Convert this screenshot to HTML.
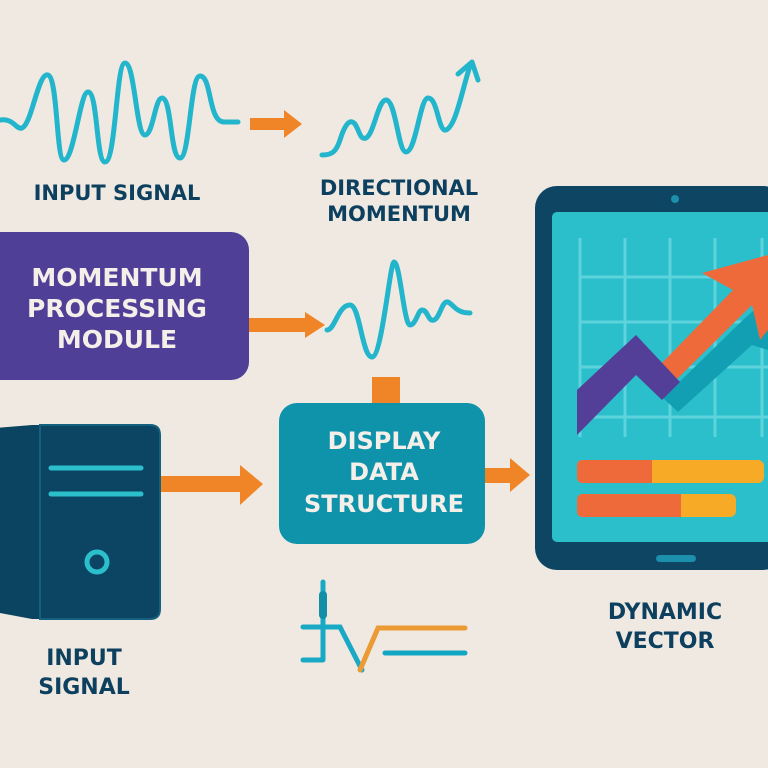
<!DOCTYPE html>
<html><head><meta charset="utf-8"><style>
html,body{margin:0;padding:0;background:#efe9e2;}
svg{display:block;}
text{font-family:"DejaVu Sans","Liberation Sans",sans-serif;font-weight:bold;}
</style></head><body>
<svg width="768" height="768" viewBox="0 0 768 768" xmlns="http://www.w3.org/2000/svg">
<rect width="768" height="768" fill="#efe9e2"/>
<g fill="none" stroke="#22b5cc" stroke-width="5" stroke-linecap="round" stroke-linejoin="round">
<path d="M0,120 C14,118 16,130 22,128 C32,124 38,72 48,75 C58,78 56,160 64,160 C74,160 80,92 88,92 C98,92 96,162 105,162 C116,162 116,63 125,63 C135,63 136,135 145,135 C153,135 155,98 162,98 C172,98 170,158 180,158 C190,158 190,76 200,76 C212,76 208,122 224,122 L238,122"/>
<path d="M322,155 C332,155 336,152 340,140 C345,124 350,118 355,124 C360,132 360,140 366,138 C374,134 378,100 386,100 C396,100 398,152 406,152 C416,152 420,98 428,98 C438,98 438,132 446,130 C456,126 462,90 470,66"/>
<path d="M458,74 L472,62 L478,80"/>
<path d="M327,330 C335,330 338,305 350,305 C360,305 362,357 372,357 C382,357 390,262 394,262 C400,262 404,325 410,325 C416,325 418,310 422,310 C428,310 428,322 434,320 C440,318 442,300 448,302 C454,305 456,313 470,313"/>
</g>
<g fill="#ef8527">
<path d="M250,118 L284,118 L284,110 L302,124 L284,138 L284,130 L250,130Z"/>
<path d="M249,318 L305,318 L305,312 L325,325 L305,338 L305,332 L249,332Z"/>
<path d="M160,476 L240,476 L240,465 L263,484 L240,505 L240,492 L160,492Z"/>
<path d="M485,468 L510,468 L510,458 L530,475 L510,492 L510,483 L485,483Z"/>
<rect x="372" y="377" width="28" height="27"/>
</g>
<text x="117" y="200" font-size="21" fill="#0d3f5f" text-anchor="middle">INPUT SIGNAL</text>
<text x="399" y="195" font-size="21" fill="#0d3f5f" text-anchor="middle">DIRECTIONAL</text>
<text x="399" y="221" font-size="21" fill="#0d3f5f" text-anchor="middle">MOMENTUM</text>
<rect x="-20" y="232" width="269" height="148" rx="18" fill="#4f3f96"/>
<g fill="#f4efe8" font-size="25" text-anchor="middle">
<text x="117" y="286">MOMENTUM</text>
<text x="117" y="317">PROCESSING</text>
<text x="117" y="348">MODULE</text>
</g>
<rect x="279" y="403" width="206" height="141" rx="18" fill="#0f93ab"/>
<g fill="#f4efe8" font-size="24" text-anchor="middle">
<text x="384" y="449">DISPLAY</text>
<text x="384" y="480">DATA</text>
<text x="384" y="512">STRUCTURE</text>
</g>
<path d="M-5,428 L32,425 L150,425 Q160,425 160,435 L160,609 Q160,619 150,619 L32,619 L-5,612Z" fill="#0b4460"/>
<path d="M40,425 L150,425 Q160,425 160,435 L160,609 Q160,619 150,619 L40,619Z" fill="#0c4563" stroke="#13617e" stroke-width="2"/>
<g stroke="#2bbfcc" stroke-width="5" stroke-linecap="round">
<line x1="51" y1="468" x2="141" y2="468"/><line x1="51" y1="494" x2="141" y2="494"/>
</g>
<circle cx="97" cy="562" r="10" fill="none" stroke="#2bbfcc" stroke-width="5"/>
<text x="84" y="665" font-size="22" fill="#0d3f5f" text-anchor="middle">INPUT</text>
<text x="84" y="694" font-size="22" fill="#0d3f5f" text-anchor="middle">SIGNAL</text>
<g fill="none" stroke-linecap="round" stroke-width="5">
<path d="M323,582 L323,660 M303,627 L340,627 L362,670 M303,660 L323,660" stroke="#1aa9c4"/>
<path d="M360,670 L378,628 L465,628" stroke="#eb9a34"/>
<line x1="385" y1="653" x2="465" y2="653" stroke="#13a6c4"/>
<line x1="323" y1="595" x2="323" y2="615" stroke="#1390a8" stroke-width="8"/>
</g>
<rect x="535" y="186" width="250" height="384" rx="22" fill="#0e4562"/>
<rect x="552" y="212" width="230" height="330" rx="5" fill="#2bbfcc"/>
<circle cx="675" cy="199" r="4" fill="#1b8fab"/>
<rect x="656" y="555" width="40" height="7" rx="3.5" fill="#1b8fab"/>
<g stroke="#5dd3db" stroke-width="3">
<line x1="580" y1="238" x2="580" y2="437"/><line x1="625" y1="238" x2="625" y2="437"/>
<line x1="670" y1="238" x2="670" y2="437"/><line x1="715" y1="238" x2="715" y2="437"/>
<line x1="762" y1="238" x2="762" y2="437"/>
<line x1="580" y1="277" x2="768" y2="277"/><line x1="580" y1="322" x2="768" y2="322"/>
<line x1="580" y1="367" x2="768" y2="367"/><line x1="580" y1="417" x2="768" y2="417"/>
</g>
<path d="M663,398 L745,318 L760,305 L768,315 L768,350 L752,345 L678,412Z" fill="#129fb3"/>
<path d="M660,365 L733,290 L702,273 L768,255 L768,330 L760,340 L752,305 L676,380Z" fill="#ee6a3a"/>
<path d="M577,390 L577,435 L636,375 L662,400 L680,382 L636,335 Z" fill="#533f97"/>
<rect x="577" y="460" width="187" height="23" rx="6" fill="#f7aa25"/>
<path d="M583,460 L652,460 L652,483 L583,483 Q577,483 577,477 L577,466 Q577,460 583,460Z" fill="#ee6a3a"/>
<rect x="577" y="494" width="159" height="23" rx="6" fill="#f7aa25"/>
<path d="M583,494 L681,494 L681,517 L583,517 Q577,517 577,511 L577,500 Q577,494 583,494Z" fill="#ee6a3a"/>
<text x="665" y="619" font-size="22" fill="#0d3f5f" text-anchor="middle">DYNAMIC</text>
<text x="665" y="648" font-size="22" fill="#0d3f5f" text-anchor="middle">VECTOR</text>
</svg>
</body></html>
